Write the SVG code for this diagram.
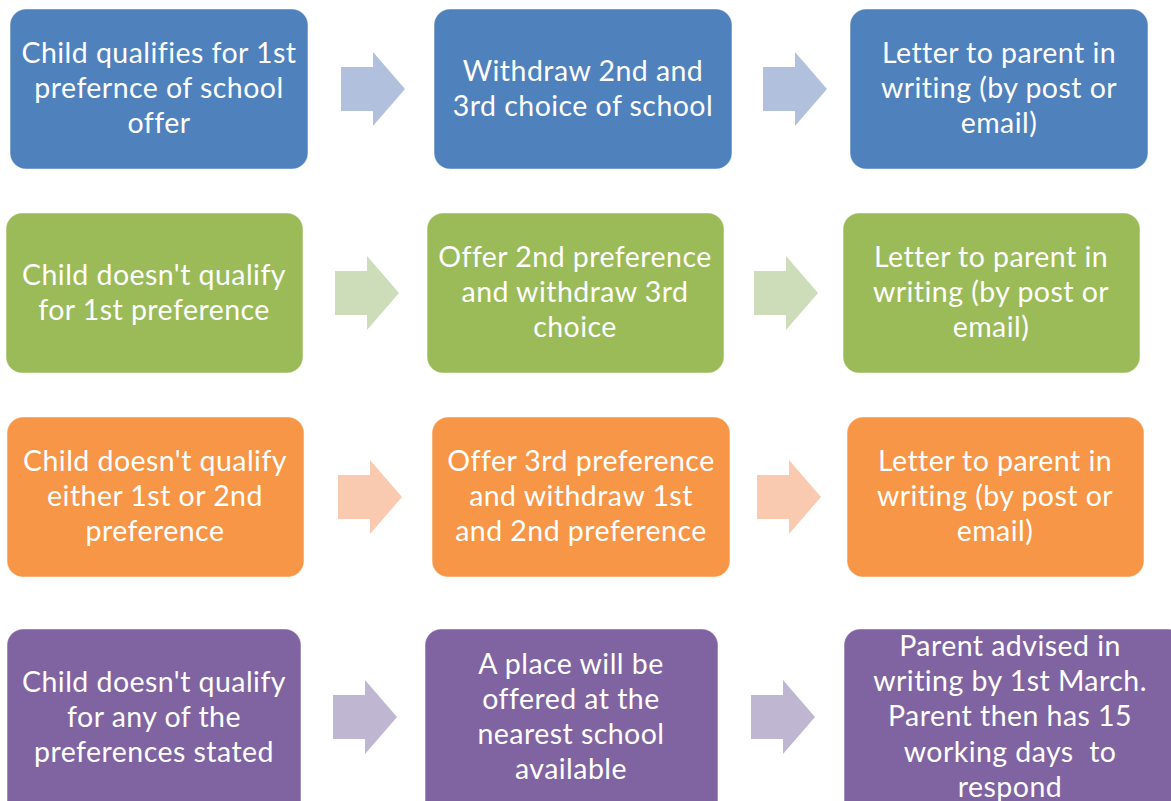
<svg xmlns="http://www.w3.org/2000/svg" width="1171" height="801" viewBox="0 0 1171 801">
  <style>
    .box { stroke: #ffffff; stroke-opacity: 0.45; stroke-width: 1.2; }
    .blue { fill: #4F81BD; }
    .green { fill: #9BBB59; }
    .orange { fill: #F79646; }
    .purple { fill: #8064A2; }
    .a-blue { fill: #B1C1DD; }
    .a-green { fill: #CDDCB9; }
    .a-orange { fill: #FACAB0; }
    .a-purple { fill: #BFB6D1; }
    text { font-family: "Lato", "Open Sans", "Liberation Sans", sans-serif; font-size: 28.5px; letter-spacing: 0.45px; fill: #ffffff; text-anchor: middle; }
    .pre { white-space: pre; }
  </style>
  <defs>
    <!-- block arrow, origin at left end of the shaft centre -->
    <path id="blockArrow" d="M0,-22 H32 V-37 L64,0 L32,37 V22 H0 Z"/>
  </defs>
  <rect width="1171" height="801" fill="#ffffff"/>

  <!-- Row 1 -->
  <g id="r1c1"><rect class="box blue" x="10" y="9" width="298" height="160" rx="16"/>
    <text x="159" y="63">Child qualifies for 1st</text><text x="159" y="98">prefernce of school</text><text x="159" y="133">offer</text></g>
  <g id="r1c2"><rect class="box blue" x="434" y="9" width="298" height="160" rx="16"/>
    <text x="583" y="81">Withdraw 2nd and</text><text x="583" y="116">3rd choice of school</text></g>
  <g id="r1c3"><rect class="box blue" x="850" y="9" width="298" height="160" rx="16"/>
    <text x="999" y="63">Letter to parent in</text><text x="999" y="98">writing (by post or</text><text x="999" y="133">email)</text></g>

  <!-- Row 2 -->
  <g id="r2c1"><rect class="box green" x="6" y="213" width="297" height="160" rx="16"/>
    <text x="154" y="285">Child doesn't qualify</text><text x="154" y="320">for 1st preference</text></g>
  <g id="r2c2"><rect class="box green" x="427" y="213" width="297" height="160" rx="16"/>
    <text x="575" y="267">Offer 2nd preference</text><text x="575" y="302">and withdraw 3rd</text><text x="575" y="337">choice</text></g>
  <g id="r2c3"><rect class="box green" x="843" y="213" width="297" height="160" rx="16"/>
    <text x="991" y="267">Letter to parent in</text><text x="991" y="302">writing (by post or</text><text x="991" y="337">email)</text></g>

  <!-- Row 3 -->
  <g id="r3c1"><rect class="box orange" x="7" y="417" width="297" height="160" rx="16"/>
    <text x="155" y="471">Child doesn't qualify</text><text x="155" y="506">either 1st or 2nd</text><text x="155" y="541">preference</text></g>
  <g id="r3c2"><rect class="box orange" x="432" y="417" width="298" height="160" rx="16"/>
    <text x="581" y="471">Offer 3rd preference</text><text x="581" y="506">and withdraw 1st</text><text x="581" y="541">and 2nd preference</text></g>
  <g id="r3c3"><rect class="box orange" x="847" y="417" width="297" height="160" rx="16"/>
    <text x="995" y="471">Letter to parent in</text><text x="995" y="506">writing (by post or</text><text x="995" y="541">email)</text></g>

  <!-- Row 4 -->
  <g id="r4c1"><rect class="box purple" x="7" y="629" width="294" height="190" rx="16"/>
    <text x="154" y="692">Child doesn't qualify</text><text x="154" y="727">for any of the</text><text x="154" y="762">preferences stated</text></g>
  <g id="r4c2"><rect class="box purple" x="425" y="629" width="293" height="190" rx="16"/>
    <text x="571" y="674">A place will be</text><text x="571" y="709">offered at the</text><text x="571" y="744">nearest school</text><text x="571" y="779">available</text></g>
  <g id="r4c3"><rect class="box purple" x="844" y="629" width="340" height="190" rx="16"/>
    <text x="1010" y="656">Parent advised in</text><text x="1010" y="691">writing by 1st March.</text><text x="1010" y="726">Parent then has 15</text><text class="pre" x="1010" y="762">working days  to</text><text x="1010" y="797">respond</text></g>

  <!-- Connectors -->
  <g id="connectors">
    <use href="#blockArrow" class="a-blue" x="341" y="89"/>
    <use href="#blockArrow" class="a-blue" x="763" y="89"/>
    <use href="#blockArrow" class="a-green" x="335" y="293"/>
    <use href="#blockArrow" class="a-green" x="754" y="293"/>
    <use href="#blockArrow" class="a-orange" x="338" y="497"/>
    <use href="#blockArrow" class="a-orange" x="757" y="497"/>
    <use href="#blockArrow" class="a-purple" x="333" y="717"/>
    <use href="#blockArrow" class="a-purple" x="751" y="717"/>
  </g>
</svg>
